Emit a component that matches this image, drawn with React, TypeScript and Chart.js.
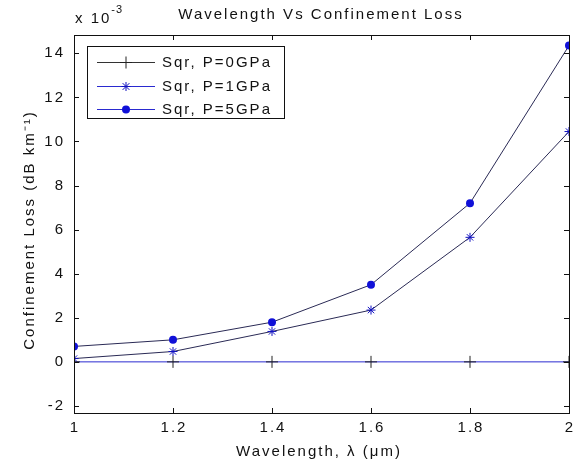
import { useEffect, useRef } from 'react';
import { Chart, registerables } from 'chart.js';
Chart.register(...registerables);

const wavelengths = [1, 1.2, 1.4, 1.6, 1.8, 2];
const lossP0 = [0, 0, 0, 0, 0, 0];
const lossP1 = [0.15, 0.47, 1.38, 2.35, 5.65, 10.45];
const lossP5 = [0.7, 1.0, 1.8, 3.5, 7.2, 14.35];
const seriesLabels = ['Sqr, P=0GPa', 'Sqr, P=1GPa', 'Sqr, P=5GPa'];
const xTicks = [1, 1.2, 1.4, 1.6, 1.8, 2];
const xTickLabels = ['1', '1.2', '1.4', '1.6', '1.8', '2'];
const yTicks = [-2, 0, 2, 4, 6, 8, 10, 12, 14];
const yTickLabels = ['-2', '0', '2', '4', '6', '8', '10', '12', '14'];
const titleText = 'Wavelength Vs Confinement Loss';
const xTitle = 'Wavelength, λ (μm)';
const yTitle = 'Confinement Loss (dB km⁻¹)';

const FONT = '"Liberation Sans", Arial, sans-serif';
const SP = 2;

function txt(ctx: any, s: string, x: number, y: number, align: 'left' | 'center' | 'right', size = 15, sp = SP) {
  ctx.save();
  ctx.font = `${size}px ${FONT}`;
  ctx.letterSpacing = `${sp}px`;
  ctx.textBaseline = 'middle';
  ctx.textAlign = 'left';
  const w = ctx.measureText(s).width - sp;
  let x0 = x;
  if (align === 'center') x0 = x - w / 2;
  else if (align === 'right') x0 = x - w;
  ctx.fillText(s, x0, y);
  ctx.restore();
  return w;
}

function drawMarker(ctx: CanvasRenderingContext2D, kind: string, x: number, y: number, color: string) {
  ctx.save();
  ctx.strokeStyle = color;
  ctx.fillStyle = color;
  ctx.lineWidth = 1;
  ctx.beginPath();
  if (kind === 'cross') {
    ctx.moveTo(x - 6, y); ctx.lineTo(x + 6, y);
    ctx.moveTo(x, y - 6); ctx.lineTo(x, y + 6);
    ctx.stroke();
  } else if (kind === 'star') {
    const r = 4.5;
    ctx.moveTo(x - r, y); ctx.lineTo(x + r, y);
    ctx.moveTo(x, y - r); ctx.lineTo(x, y + r);
    const d = r * 0.75;
    ctx.moveTo(x - d, y - d); ctx.lineTo(x + d, y + d);
    ctx.moveTo(x - d, y + d); ctx.lineTo(x + d, y - d);
    ctx.stroke();
  } else {
    ctx.arc(x, y, 4, 0, Math.PI * 2);
    ctx.fill();
  }
  ctx.restore();
}

const matlabFrame = {
  id: 'matlabFrame',
  afterDraw(chart: any) {
    const ctx: CanvasRenderingContext2D = chart.ctx;
    const { left, right, top, bottom } = chart.chartArea;
    const xs = chart.scales.x;
    const ys = chart.scales.y;
    ctx.save();
    ctx.strokeStyle = '#111';
    ctx.lineWidth = 1;
    ctx.strokeRect(Math.round(left) + 0.5, Math.round(top) + 0.5, Math.round(right - left), Math.round(bottom - top));
    ctx.beginPath();
    const tl = 5;
    xTicks.forEach((v) => {
      const px = Math.round(xs.getPixelForValue(v)) + 0.5;
      ctx.moveTo(px, bottom); ctx.lineTo(px, bottom - tl);
      ctx.moveTo(px, top); ctx.lineTo(px, top + tl);
    });
    yTicks.forEach((v) => {
      const py = Math.round(ys.getPixelForValue(v)) + 0.5;
      ctx.moveTo(left, py); ctx.lineTo(left + tl, py);
      ctx.moveTo(right, py); ctx.lineTo(right - tl, py);
    });
    ctx.stroke();

    ctx.fillStyle = '#111';
    xTicks.forEach((v, i) => {
      txt(ctx, xTickLabels[i], xs.getPixelForValue(v), 428, 'center');
    });
    yTicks.forEach((v, i) => {
      txt(ctx, yTickLabels[i], 63, ys.getPixelForValue(v), 'right');
    });

    txt(ctx, titleText, 320, 15, 'center');
    txt(ctx, xTitle, 318, 452, 'center');

    ctx.save();
    ctx.translate(30, 231);
    ctx.rotate(-Math.PI / 2);
    txt(ctx, yTitle, 0, 0, 'center');
    ctx.restore();

    // exponent
    const w = txt(ctx, 'x 10', 75, 19, 'left');
    txt(ctx, '-3', 75 + w + 2, 10, 'left', 11, 1);

    // legend
    const lx = 87, ly = 46, lw = 197, lh = 72;
    ctx.fillStyle = '#fff';
    ctx.fillRect(lx, ly, lw, lh);
    ctx.strokeStyle = '#111';
    ctx.strokeRect(lx + 0.5, ly + 0.5, lw, lh);
    const rows = [
      { label: seriesLabels[0], line: '#333', marker: 'cross', mcol: '#222', y: 62 },
      { label: seriesLabels[1], line: '#2a2ad0', marker: 'star', mcol: '#1010c0', y: 86 },
      { label: seriesLabels[2], line: '#2a2ad0', marker: 'circle', mcol: '#1010d8', y: 109 },
    ];
    rows.forEach((r) => {
      ctx.strokeStyle = r.line;
      ctx.beginPath();
      ctx.moveTo(97, r.y + 0.5); ctx.lineTo(155, r.y + 0.5);
      ctx.stroke();
      drawMarker(ctx, r.marker, 126, r.y + 0.5, r.mcol);
      ctx.fillStyle = '#111';
      txt(ctx, r.label, 162, r.y + 1, 'left');
    });
    ctx.restore();
  },
};

export default function App() {
  const ref = useRef<HTMLCanvasElement | null>(null);
  useEffect(() => {
    if (!ref.current) return;
    const mk = (vals: number[]) => wavelengths.map((x, i) => ({ x, y: vals[i] }));
    const chart = new Chart(ref.current, {
      type: 'line',
      data: {
        datasets: [
          {
            label: seriesLabels[0], data: mk(lossP0), borderColor: '#2b2bd0', borderWidth: 1,
            pointStyle: 'cross', pointRadius: 6, pointBorderColor: '#222', pointBorderWidth: 1,
            pointBackgroundColor: '#222',
          },
          {
            label: seriesLabels[1], data: mk(lossP1), borderColor: '#2a2a55', borderWidth: 1,
            pointStyle: 'star', pointRadius: 4.5, pointBorderColor: '#1010c0', pointBorderWidth: 1,
            pointBackgroundColor: '#1010c0',
          },
          {
            label: seriesLabels[2], data: mk(lossP5), borderColor: '#2a2a55', borderWidth: 1,
            pointStyle: 'circle', pointRadius: 4, pointBorderColor: '#1010d8', pointBorderWidth: 0,
            pointBackgroundColor: '#1010d8',
          },
        ],
      },
      options: {
        animation: false,
        responsive: false,
        devicePixelRatio: 1,
        layout: { padding: { top: 35, right: 13, left: 0, bottom: 0 } },
        plugins: { legend: { display: false }, title: { display: false }, tooltip: { enabled: false } },
        scales: {
          x: {
            type: 'linear', min: 1, max: 2,
            afterBuildTicks: (s: any) => { s.ticks = xTicks.map((v) => ({ value: v })); },
            afterFit: (s: any) => { s.height = 53; },
            grid: { display: false }, border: { display: false },
            ticks: { display: false },
          },
          y: {
            type: 'linear', min: -2.32, max: 14.83,
            afterBuildTicks: (s: any) => { s.ticks = yTicks.map((v) => ({ value: v })); },
            afterFit: (s: any) => { s.width = 74; },
            grid: { display: false }, border: { display: false },
            ticks: { display: false },
          },
        },
      },
      plugins: [matlabFrame],
    });
    return () => chart.destroy();
  }, []);
  return (
    <div style={{ position: 'fixed', left: 0, top: 0, width: 582, height: 466, background: '#fff' }}>
      <canvas ref={ref} width={582} height={466} />
    </div>
  );
}
